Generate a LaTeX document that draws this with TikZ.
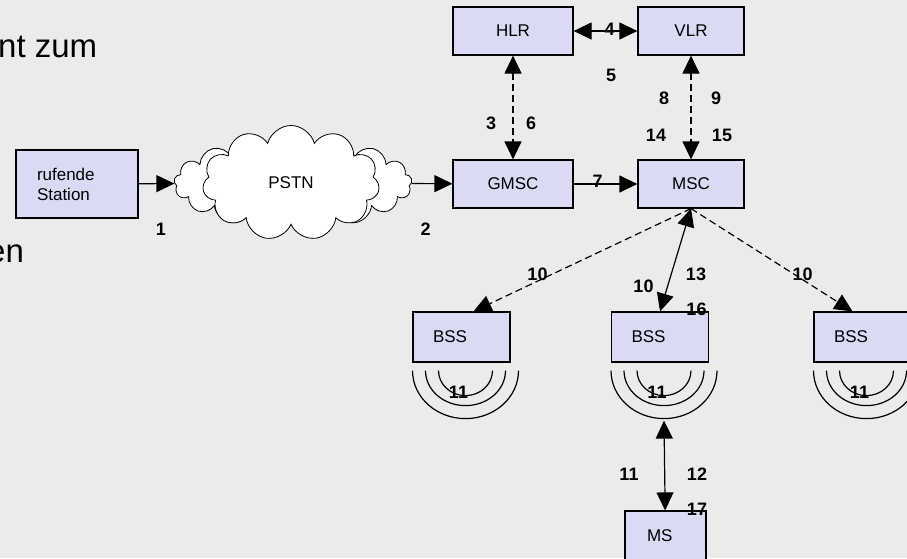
\documentclass[tikz,border=0pt]{standalone}
\usepackage{fontspec}
\setmainfont{Liberation Sans}
\usetikzlibrary{shapes.symbols,arrows.meta}
\definecolor{boxfill}{RGB}{218,218,245}
\definecolor{slidegray}{RGB}{235,235,235}
\tikzstyle{box}=[rectangle,minimum height=48pt,text centered,draw=black,
line width=1.2pt,fill=boxfill,font=\fontsize{17}{20}\selectfont]
\tikzstyle{leftbox}=[box,align=left,inner xsep=20pt,text width=57pt,minimum height=50pt]
\tikzstyle{num}=[inner sep=0pt,font=\fontsize{18}{20}\selectfont\bfseries]
\tikzstyle{arrow}=[line width=1.2pt,-{Triangle[length=18pt,width=17pt]}]
\tikzstyle{both}=[line width=1.2pt,{Triangle[length=18pt,width=17pt]}-{Triangle[length=18pt,width=17pt]}]
\tikzstyle{dashline}=[dash pattern=on 7pt off 4pt]
\tikzstyle{wave}=[line width=1.2pt]

\begin{document}
\begin{tikzpicture}[x=1pt,y=-1pt]
    \clip (0,0) rectangle (907,558);
    \fill[slidegray] (0,0) rectangle (907,558);
    % slide text behind the picture
    \node (slidetop) [anchor=base west,inner sep=0pt,font=\fontsize{33}{36}\selectfont] at (-2,57) {nt zum};
    \node (slidemid) [anchor=base west,inner sep=0pt,font=\fontsize{33}{36}\selectfont] at (-13,262) {en};

        \node (station) [box,align=left,inner xsep=21pt,text width=80pt,minimum height=68pt] at (77,184) {rufende\\Station};
        \node (pstnback) [cloud,cloud puffs=17,aspect=2.6,draw,fill=white,line width=0.8pt,
            minimum width=238pt,minimum height=93pt] at (293,183) {};
        \node (pstn) [cloud,cloud puffs=11,aspect=1.6,draw,fill=white,line width=0.8pt,
            minimum width=177pt,minimum height=115pt,font=\fontsize{17}{20}\selectfont] at (291,183) {PSTN};
        \node (hlr) [box,minimum width=120pt] at (513,31) {HLR};
        \node (vlr) [box,minimum width=106pt] at (691,31) {VLR};
        \node (gmsc) [box,minimum width=120pt] at (513,184) {GMSC};
        \node (msc) [box,minimum width=106pt] at (691,184) {MSC};
        \node (bssl) [leftbox] at (461.5,337) {BSS};
        \node (bssm) [leftbox] at (660,337) {BSS};
        \node (bssr) [leftbox] at (862.5,337) {BSS};
        \node (ms) [box,align=left,inner xsep=22pt,text width=37pt,minimum height=50pt] at (665.5,536) {MS};

        % antennas
        \foreach \b in {bssl,bssm,bssr}
            \foreach \rx/\ry in {53/48,40/35,27/25}
                \draw [wave] ([xshift=4pt,yshift=-8pt]\b.south) ++(-\rx pt,0)
                    arc[start angle=180,end angle=360,x radius=\rx pt,y radius=\ry pt];

        \draw [arrow] (station) -- (pstnback);
        \draw [arrow] (pstnback) -- (gmsc);
        \draw [both] (hlr) -- (vlr);
        \draw [both,dashline] (hlr) -- (gmsc);
        \draw [both,dashline] (vlr) -- (msc);
        \draw [arrow] (gmsc) -- (msc);
        \draw [arrow,dashline] (msc.south) -- ([xshift=12pt]bssl.north);
        \draw [both] (msc.south) -- (bssm.north);
        \draw [arrow,dashline] (msc.south) -- ([xshift=-10pt]bssr.north);
        \draw [both] ([xshift=4pt,yshift=-58pt]bssm.south) -- (ms);

        \node (n1) [num] at (161,229) {1};
        \node (n2) [num] at (425.5,229) {2};
        \node (n3) [num] at (491,123.5) {3};
        \node (n4) [num] at (609.5,29.5) {4};
        \node (n5) [num] at (611,75) {5};
        \node (n6) [num] at (531,123.5) {6};
        \node (n7) [num] at (597.5,181.5) {7};
        \node (n8) [num] at (664,98.5) {8};
        \node (n9) [num] at (716,98.5) {9};
        \node (n14) [num] at (656,135) {14};
        \node (n15) [num] at (722,135) {15};
        \node (n10l) [num] at (537.5,274.5) {10};
        \node (n10m) [num] at (643.5,286.5) {10};
        \node (n13) [num] at (696,274.5) {13};
        \node (n16) [num] at (696.5,309.5) {16};
        \node (n10r) [num] at (802.5,274.5) {10};
        \node (n11l) [num] at ([xshift=-3pt,yshift=-30pt]bssl.south) {11};
        \node (n11m) [num] at ([xshift=-3pt,yshift=-30pt]bssm.south) {11};
        \node (n11r) [num] at ([xshift=-3pt,yshift=-30pt]bssr.south) {11};
        \node (n11) [num] at (629,474) {11};
        \node (n12) [num] at (697,474) {12};
        \node (n17) [num] at (697,509.5) {17};
    \end{tikzpicture}
\end{document}
